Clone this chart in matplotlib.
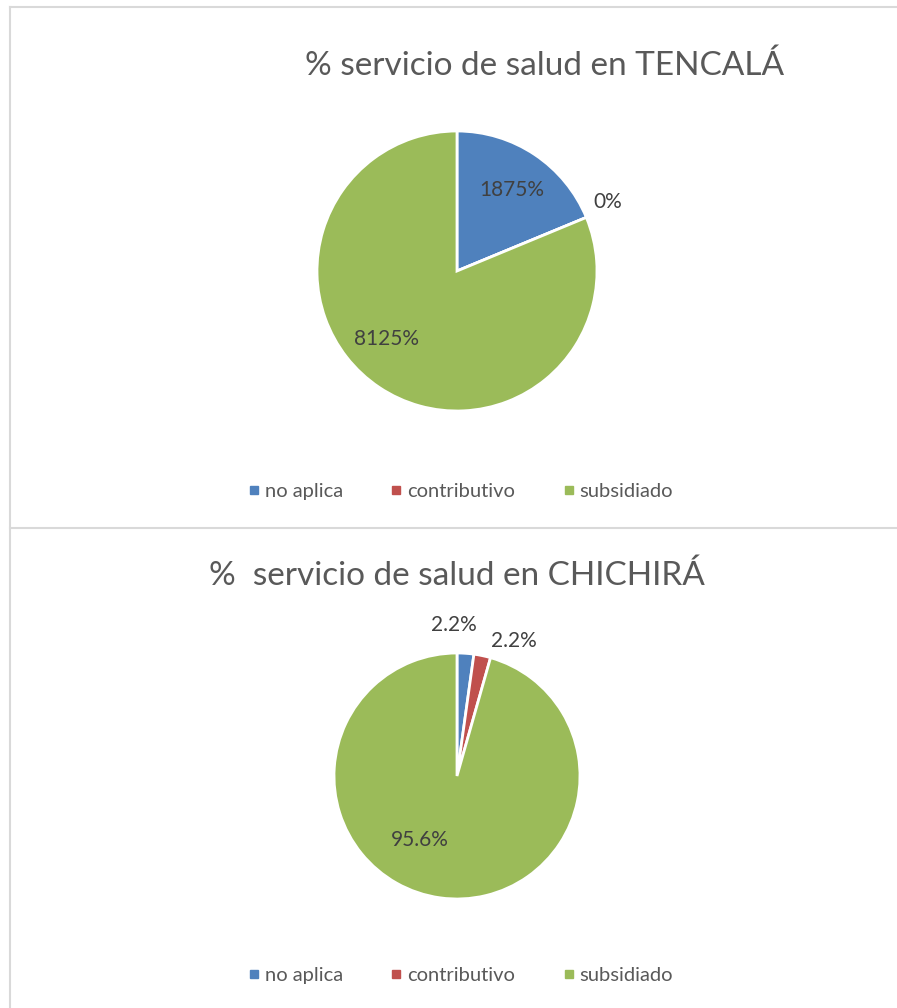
import numpy as np
import matplotlib
matplotlib.use("Agg")
import matplotlib.pyplot as plt
from matplotlib.lines import Line2D

plt.rcParams["font.family"] = ["Lato", "DejaVu Sans"]

# datos
categorias = ["no aplica", "contributivo", "subsidiado"]
tencala_valores = [18.75, 0, 81.25]
tencala_etiquetas = ["1875%", "0%", "8125%"]
chichira_valores = [2.2, 2.2, 95.6]
chichira_etiquetas = ["2.2%", "2.2%", "95.6%"]

colores = ["#4F81BD", "#C0504D", "#9BBB59"]
W, H = 897, 1008

fig = plt.figure(figsize=(W / 100, H / 100), dpi=100)
fig.patch.set_facecolor("white")

# bordes de los dos paneles
borde = "#D9D9D9"
fig.add_artist(Line2D([10 / W, 1], [1 - 7 / H, 1 - 7 / H], color=borde, lw=1.5))
fig.add_artist(Line2D([10 / W, 1], [1 - 528 / H, 1 - 528 / H], color=borde, lw=1.5))
fig.add_artist(Line2D([10 / W, 10 / W], [0, 1 - 7 / H], color=borde, lw=1.5))


def dibujar_pie(cx, cy, r, valores, etiquetas, dist, giro):
    ax = fig.add_axes([(cx - r) / W, 1 - (cy + r) / H, 2 * r / W, 2 * r / H])
    wedges, _ = ax.pie(valores, colors=colores, startangle=90, counterclock=False,
                       wedgeprops=dict(edgecolor="white", linewidth=2))
    ax.set_xlim(-1, 1)
    ax.set_ylim(-1, 1)
    ax.set_aspect("equal")
    for w, txt, d, g in zip(wedges, etiquetas, dist, giro):
        ang = np.deg2rad((w.theta1 + w.theta2) / 2 + g)
        ax.text(d * np.cos(ang), d * np.sin(ang), txt, ha="center", va="center",
                fontsize=15, color="#404040")
    return ax


# --- TENCALÁ ---
dibujar_pie(457, 271, 140, tencala_valores, tencala_etiquetas,
            [0.70, 1.18, 0.70], [0, 2, -12])
fig.text(545 / W, 1 - 66 / H, "% servicio de salud en TENCALÁ",
         ha="center", va="center", fontsize=24, color="#595959")

# --- CHICHIRÁ ---
dibujar_pie(457, 776, 123, chichira_valores, chichira_etiquetas,
            [1.23, 1.19, 0.60], [5, -11, -22])
fig.text(457 / W, 1 - 576 / H, "%  servicio de salud en CHICHIRÁ",
         ha="center", va="center", fontsize=24, color="#595959")

# leyendas
manijas = [Line2D([], [], marker="s", ls="", color=c, markersize=6) for c in colores]
for y in [491, 975]:
    fig.legend(manijas, categorias, loc="center", bbox_to_anchor=(461 / W, 1 - y / H),
               ncol=3, frameon=False, fontsize=14.5, labelcolor="#595959",
               handlelength=0.5, handletextpad=0.3, columnspacing=2.4)

fig.savefig("out.png", dpi=100, facecolor="white")
